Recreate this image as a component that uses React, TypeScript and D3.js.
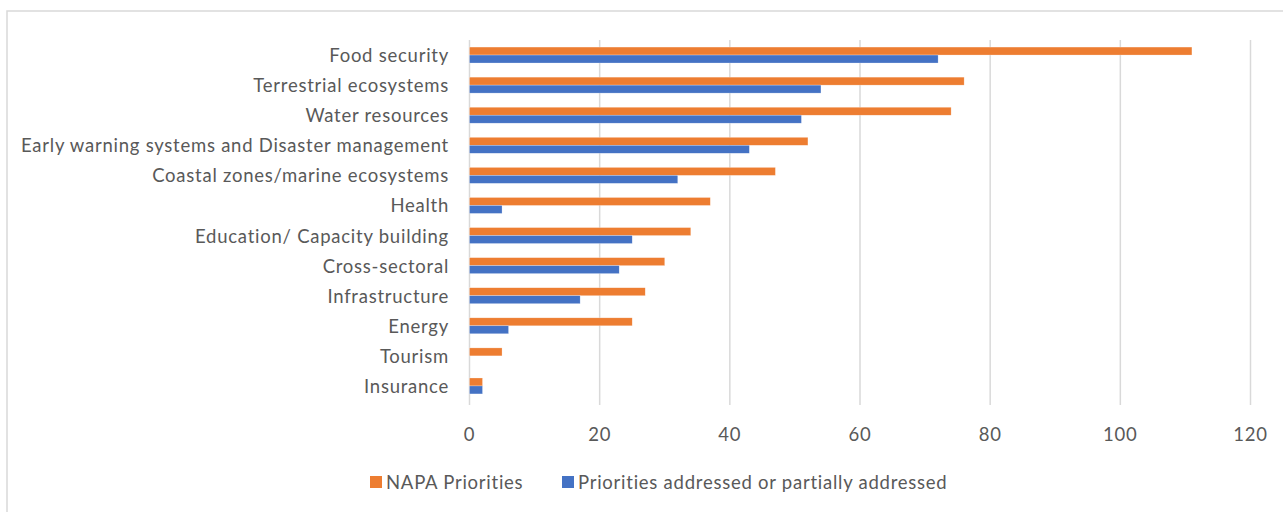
import React from "react";
import * as d3 from "d3";

const categories = [
  "Food security",
  "Terrestrial ecosystems ",
  "Water resources",
  "Early warning systems and Disaster management",
  "Coastal zones/marine ecosystems",
  "Health",
  "Education/ Capacity building",
  "Cross-sectoral",
  "Infrastructure",
  "Energy",
  "Tourism",
  "Insurance",
];
const napaPriorities = [111, 76, 74, 52, 47, 37, 34, 30, 27, 25, 5, 2];
const prioritiesAddressed = [72, 54, 51, 43, 32, 5, 25, 23, 17, 6, 0, 2];
const seriesNames = ["NAPA Priorities", "Priorities addressed or partially addressed"];
const seriesColors = ["#ED7D31", "#4472C4"];
const xTicks = [0, 20, 40, 60, 80, 100, 120];

const W = 1283;
const H = 512;
const FONT = "Lato, 'Open Sans', sans-serif";
const TEXT = "#595959";
const GRID = "#d9d9d9";
const FS = 18.5;
const LS = 0.75;

export default function App() {
  const x = d3.scaleLinear().domain([0, 120]).range([469.5, 1250.5]);
  const y = d3
    .scaleBand<string>()
    .domain(categories)
    .range([40, 401])
    .paddingInner(0.47)
    .paddingOuter(0.235);
  const sub = d3.scaleBand<number>().domain([0, 1]).range([0, y.bandwidth()]);
  const series = [napaPriorities, prioritiesAddressed];

  return (
    <svg
      width={W}
      height={H}
      style={{ position: "absolute", left: 0, top: 0, background: "#fff" }}
      fontFamily={FONT}
    >
      <rect x={0} y={0} width={W} height={H} fill="#fff" />
      <rect x={7} y={11} width={W + 10} height={H + 10} fill="none" stroke={GRID} strokeWidth={1.5} />
      {xTicks.map((t) => (
        <line key={"g" + t} x1={x(t)} x2={x(t)} y1={40} y2={405} stroke={GRID} strokeWidth={1.5} />
      ))}
      {categories.map((c, i) =>
        series.map((s, k) =>
          s[i] > 0 ? (
            <rect
              key={c + k}
              x={x(0)}
              y={(y(c) as number) + (sub(k) as number)}
              width={x(s[i]) - x(0)}
              height={sub.bandwidth()}
              fill={seriesColors[k]}
              stroke="#fff"
              strokeOpacity={0.5}
              strokeWidth={0.5}
            />
          ) : null
        )
      )}
      {categories.map((c) => (
        <text
          key={"l" + c}
          x={449}
          y={(y(c) as number) + y.bandwidth() / 2}
          textAnchor="end"
          dominantBaseline="central"
          fontSize={FS}
          letterSpacing={LS}
          fill={TEXT}
        >
          {c}
        </text>
      ))}
      {xTicks.map((t) => (
        <text
          key={"t" + t}
          x={x(t)}
          y={434}
          textAnchor="middle"
          dominantBaseline="central"
          fontSize={FS}
          letterSpacing={LS}
          fill={TEXT}
        >
          {t}
        </text>
      ))}
      <g>
        <rect x={370} y={476} width={12} height={12} fill={seriesColors[0]} />
        <text x={386} y={482} dominantBaseline="central" fontSize={FS} letterSpacing={LS} fill={TEXT}>
          {seriesNames[0]}
        </text>
        <rect x={562} y={476} width={12} height={12} fill={seriesColors[1]} />
        <text x={578} y={482} dominantBaseline="central" fontSize={FS} letterSpacing={LS} fill={TEXT}>
          {seriesNames[1]}
        </text>
      </g>
    </svg>
  );
}
